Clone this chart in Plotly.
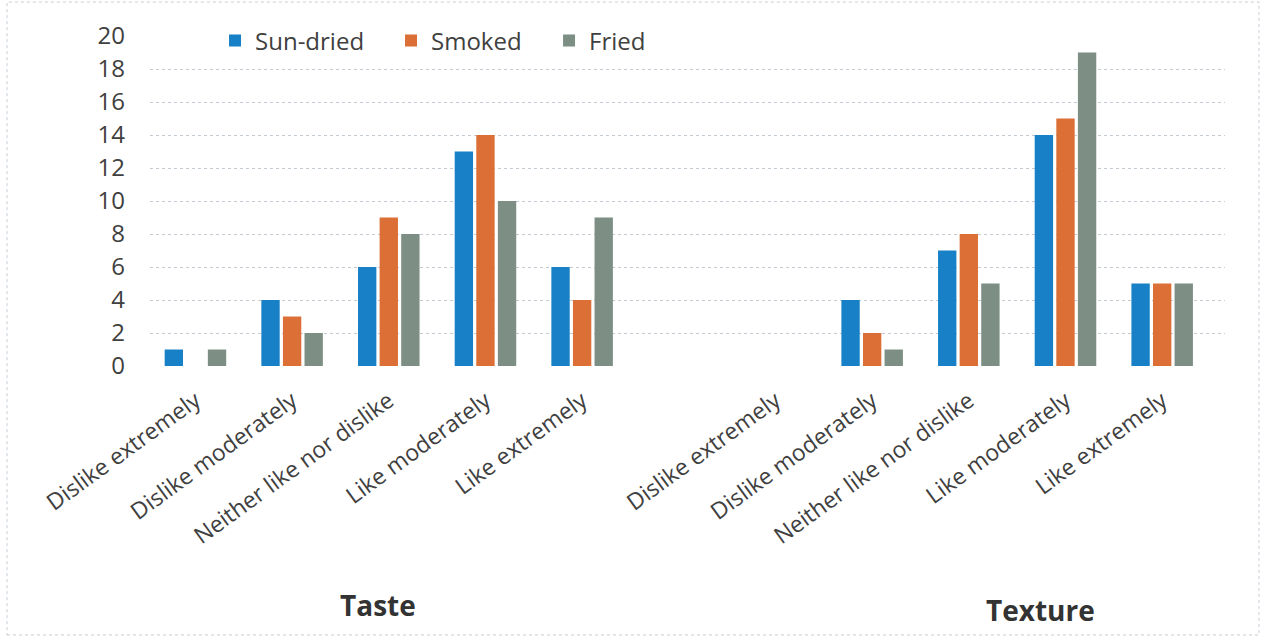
import plotly.graph_objects as go

# Sensory scores (number of panellists) per rating level, for taste and texture
rating_levels = ["Dislike extremely", "Dislike moderately", "Neither like nor dislike",
                 "Like moderately", "Like extremely"]
attributes = ["Taste", "Texture"]

taste_sun_dried = [1, 4, 6, 13, 6]
taste_smoked = [0, 3, 9, 14, 4]
taste_fried = [1, 2, 8, 10, 9]

texture_sun_dried = [0, 4, 7, 14, 5]
texture_smoked = [0, 2, 8, 15, 5]
texture_fried = [0, 1, 5, 19, 5]

y_ticks = [0, 2, 4, 6, 8, 10, 12, 14, 16, 18, 20]

series = [
    ("Sun-dried", taste_sun_dried, texture_sun_dried, "#1780c6"),
    ("Smoked", taste_smoked, texture_smoked, "#db6f36"),
    ("Fried", taste_fried, texture_fried, "#7d8f84"),
]

# Unique category keys per attribute, with a blank slot separating the two groups
keys = {a: [f"{a}|{lvl}" for lvl in rating_levels] for a in attributes}
spacer = " "
category_order = keys["Taste"] + [spacer] + keys["Texture"]
tick_text = rating_levels + [""] + rating_levels

text_color = "#404040"
font_family = "'Open Sans', sans-serif"

# One legend box per series so each entry sits at its own spot along the top
legend_ids = ["legend", "legend2", "legend3"]
legend_x = [0.0605, 0.2242, 0.3712]

fig = go.Figure()
for (name, taste_vals, texture_vals, color), lid in zip(series, legend_ids):
    fig.add_trace(go.Bar(
        name=name,
        x=keys["Taste"] + keys["Texture"],
        y=taste_vals + texture_vals,
        marker=dict(color=color, line=dict(width=0)),
        legend=lid,
    ))

legend_style = dict(orientation="h", y=0.985, xanchor="left", yanchor="middle",
                    bgcolor="white", font=dict(size=24, color=text_color), itemwidth=30)

fig.update_layout(
    width=1267, height=642,
    margin=dict(l=150, r=42, t=36, b=276),
    paper_bgcolor="white", plot_bgcolor="white",
    barmode="group", bargap=0.33, bargroupgap=0.15,
    font=dict(family=font_family, color=text_color),
    showlegend=True,
    xaxis=dict(
        type="category", categoryorder="array", categoryarray=category_order,
        tickmode="array", tickvals=category_order, ticktext=tick_text,
        tickangle=-36, tickfont=dict(size=23, color=text_color),
        range=[-0.47, 10.65], showgrid=False, zeroline=False, showline=False,
        ticks="", ticklabelstandoff=16,
    ),
    yaxis=dict(
        range=[0, 20], tickmode="array", tickvals=y_ticks,
        tickfont=dict(size=24, color=text_color),
        showgrid=True, gridcolor="#c3cad3", griddash="dot", gridwidth=1,
        zeroline=False, showline=False, ticks="", ticklabelstandoff=24,
    ),
)
for lid, lx in zip(legend_ids, legend_x):
    fig.update_layout({lid: dict(legend_style, x=lx)})

# Group labels beneath the rotated rating labels
fig.add_annotation(text="<b>Taste</b>", x=1.89, xref="x", y=-0.724, yref="paper",
                   yanchor="middle", showarrow=False, font=dict(size=28, color="#333333"))
fig.add_annotation(text="<b>Texture</b>", x=8.74, xref="x", y=-0.739, yref="paper",
                   yanchor="middle", showarrow=False, font=dict(size=28, color="#333333"))

# Chart area border
fig.add_shape(type="rect", xref="paper", yref="paper",
              x0=-0.1330, x1=1.0316, y0=-0.815, y1=1.103,
              line=dict(color="#c8ced6", width=1, dash="dot"), layer="below")

fig.write_html("out.html")
